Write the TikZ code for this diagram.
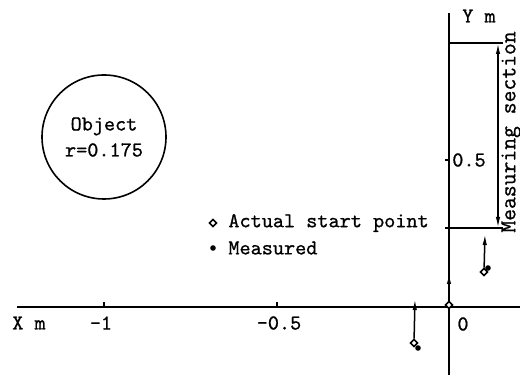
\documentclass[tikz,border=0pt]{standalone}
\usepackage{fontspec}
\usepackage{tikz}
\usetikzlibrary{arrows.meta,positioning,calc,shapes.geometric}
\newfontfamily\plotfont{Latin Modern Mono}[FakeBold=0.8]

\begin{document}
\begin{tikzpicture}[x=0.5pt,y=-0.5pt,
    lbl/.style={font=\plotfont\fontsize{10.6}{12}\selectfont,inner sep=1pt},
    axis/.style={line width=0.75pt},
    track/.style={-{Latex[length=5.5pt,width=2.2pt]},line width=0.75pt},
    span/.style={{Latex[length=5.5pt,width=2.2pt]}-{Latex[length=5.5pt,width=2.2pt]},line width=0.75pt},
    startpt/.style={draw,diamond,fill=white,inner sep=0pt,minimum size=3.8pt,line width=0.75pt},
    meas/.style={circle,fill=black,inner sep=0pt,minimum size=2.8pt}
  ]
    \useasboundingbox (0,0) rectangle (520,378);
    % axes
    \coordinate (xl) at (17,307);
    \coordinate (xr) at (520,307);
    \coordinate (yb) at (449,375);
    \coordinate (yt) at (449,13);
    \draw[axis] (xl) -- (xr);
    \draw[axis] (yb) -- (yt);
    \foreach \x in {104,277} \draw[axis] (\x,307) -- (\x,302);
    \draw[axis] (445,160) -- (449,160);
    \node[lbl] (xname) at (29,323) {X m};
    \node[lbl] (xone) at (101,323) {-1};
    \node[lbl] (xhalf) at (279,323) {-0.5};
    \node[lbl] (xzero) at (463,324) {0};
    \node[lbl] (yname) at (479,16) {Y m};
    \node[lbl] (yhalf) at (469,160) {0.5};
    % object
    \node[lbl,draw,circle,line width=0.8pt,minimum size=62pt,align=center] (obj) at (104,137)
      {Object\\[1pt]r=0.175};
    % measuring section
    \coordinate (mtl) at (449,43);
    \coordinate (mtr) at (503,43);
    \coordinate (mbl) at (445,228);
    \coordinate (mbr) at (503,228);
    \draw[axis] (mtl) -- (mtr);
    \draw[axis] (mbl) -- (mbr);
    \coordinate (mt) at (498,43);
    \coordinate (mb) at (498,228);
    \draw[span] (mt) -- (mb);
    \node[lbl,font=\plotfont\fontsize{11.5}{12}\selectfont,rotate=90] (msec) at (511,132) {Measuring section};
    % legend
    \node[startpt] (lgs) at (213,223) {};
    \node[lbl,anchor=west] (lgst) at (226,223) {Actual start point};
    \node[meas] (lgm) at (213,248) {};
    \node[lbl,anchor=west] (lgmt) at (226,248) {Measured};
    % tracks
    \node[meas] (m1) at (418,348) {};
    \node[startpt] (s1) at (414,343) {};
    \coordinate (t1) at (415,299);
    \draw[track] (s1) -- (t1);
    \node[startpt] (s2) at (449,305) {};
    \coordinate (t2) at (449,273);
    \draw[track] (s2) -- (t2);
    \node[meas] (m3) at (488,268) {};
    \node[startpt] (s3) at (484,272) {};
    \coordinate (t3) at (485,234);
    \draw[track] (s3) -- (t3);
  \end{tikzpicture}
\end{document}
